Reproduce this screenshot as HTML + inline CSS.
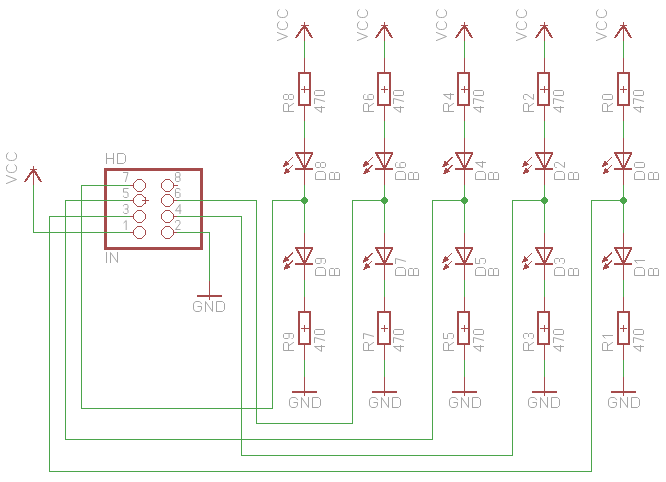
<!DOCTYPE html>
<html><head><meta charset="utf-8"><title>schematic</title>
<style>html,body{margin:0;padding:0;background:#fff;font-family:"Liberation Sans",sans-serif}svg{display:block}</style></head>
<body>
<svg width="666" height="482" viewBox="0 0 666 482">
<path d="M301,25.5H309M304.5,22V29M304.5,25V42M301,89.5H309M304.5,86V93M304.5,57V74M304.5,105V122M304.5,137V186M304.5,232V281M301,328.5H309M304.5,325V332M304.5,296V313M304.5,344V361M304.5,376V393M304.5,392V396M381,25.5H388M384.5,22V29M384.5,25V42M381,89.5H388M384.5,86V93M384.5,57V74M384.5,105V122M384.5,137V186M384.5,232V281M381,328.5H388M384.5,325V332M384.5,296V313M384.5,344V361M384.5,376V393M384.5,392V396M461,25.5H468M464.5,22V29M464.5,25V42M461,89.5H468M464.5,86V93M464.5,57V74M464.5,105V122M464.5,137V186M464.5,232V281M461,328.5H468M464.5,325V332M464.5,296V313M464.5,344V361M464.5,376V393M464.5,392V396M540,25.5H548M544.5,22V29M544.5,25V42M540,89.5H548M544.5,86V93M544.5,57V74M544.5,105V122M544.5,137V186M544.5,232V281M540,328.5H548M544.5,325V332M544.5,296V313M544.5,344V361M544.5,376V393M544.5,392V396M620,25.5H627M623.5,22V29M623.5,25V42M620,89.5H627M623.5,86V93M623.5,57V74M623.5,105V122M623.5,137V186M623.5,232V281M620,328.5H627M623.5,325V332M623.5,296V313M623.5,344V361M623.5,376V393M623.5,392V396M142,200.5H149M145.5,197V204M130,185.5H133M174,185.5H178M130,200.5H133M174,200.5H178M130,216.5H133M174,216.5H178M130,232.5H133M174,232.5H178M30,169.5H37M33.5,166V173M33.5,169V186M209.5,280V297M209.5,296V300" stroke="#A54B4B" stroke-width="1" fill="none" shape-rendering="crispEdges"/>
<path d="M299,73H310V105H299V72M299,312H310V344H299V311M291.5,392H317M378,73H390V105H378V72M378,312H390V344H378V311M371.5,392H397M458,73H469V105H458V72M458,312H469V344H458V311M451.5,392H477M538,73H549V105H538V72M538,312H549V344H538V311M531.5,392H557M618,73H629V105H618V72M618,312H629V344H618V311M610.5,392H636M196.5,296H222" stroke="#A54B4B" stroke-width="2" fill="none" shape-rendering="crispEdges"/>
<path d="M105.5,169.5H201.5V248.5H105.5Z" stroke="#A54B4B" stroke-width="3" fill="none" shape-rendering="crispEdges"/>
<path d="M296.3,37.2L304.5,25.5L311.7,37.2" stroke="#A54B4B" stroke-width="2" fill="none" stroke-linecap="round" stroke-linejoin="round" shape-rendering="crispEdges"/>
<path d="M295,153H313M296.6,153.5L304.5,169L312.4,153.5M295,169H313" stroke="#A54B4B" stroke-width="2" fill="none" stroke-linejoin="bevel" shape-rendering="crispEdges"/>
<path d="M292.86,157.14L283.29,166.70M292.86,165.11L284.08,173.87" stroke="#A54B4B" stroke-width="1" fill="none" shape-rendering="crispEdges"/>
<path d="M283.29,166.70L285.68,161.12L288.87,164.31Z M284.08,173.87L286.48,168.29L289.67,171.48Z" stroke="#A54B4B" stroke-width="1" fill="#A54B4B" stroke-linejoin="round" shape-rendering="crispEdges"/>
<path d="M295,248H313M296.6,248.5L304.5,264L312.4,248.5M295,264H313" stroke="#A54B4B" stroke-width="2" fill="none" stroke-linejoin="bevel" shape-rendering="crispEdges"/>
<path d="M292.86,252.72L283.29,262.28M292.86,260.69L284.08,269.45" stroke="#A54B4B" stroke-width="1" fill="none" shape-rendering="crispEdges"/>
<path d="M283.29,262.28L285.68,256.70L288.87,259.89Z M284.08,269.45L286.48,263.87L289.67,267.06Z" stroke="#A54B4B" stroke-width="1" fill="#A54B4B" stroke-linejoin="round" shape-rendering="crispEdges"/>
<path d="M376.3,37.2L384.5,25.5L391.7,37.2" stroke="#A54B4B" stroke-width="2" fill="none" stroke-linecap="round" stroke-linejoin="round" shape-rendering="crispEdges"/>
<path d="M375,153H393M376.6,153.5L384.5,169L392.4,153.5M375,169H393" stroke="#A54B4B" stroke-width="2" fill="none" stroke-linejoin="bevel" shape-rendering="crispEdges"/>
<path d="M372.61,157.14L363.04,166.70M372.61,165.11L363.83,173.87" stroke="#A54B4B" stroke-width="1" fill="none" shape-rendering="crispEdges"/>
<path d="M363.04,166.70L365.43,161.12L368.62,164.31Z M363.83,173.87L366.23,168.29L369.42,171.48Z" stroke="#A54B4B" stroke-width="1" fill="#A54B4B" stroke-linejoin="round" shape-rendering="crispEdges"/>
<path d="M375,248H393M376.6,248.5L384.5,264L392.4,248.5M375,264H393" stroke="#A54B4B" stroke-width="2" fill="none" stroke-linejoin="bevel" shape-rendering="crispEdges"/>
<path d="M372.61,252.72L363.04,262.28M372.61,260.69L363.83,269.45" stroke="#A54B4B" stroke-width="1" fill="none" shape-rendering="crispEdges"/>
<path d="M363.04,262.28L365.43,256.70L368.62,259.89Z M363.83,269.45L366.23,263.87L369.42,267.06Z" stroke="#A54B4B" stroke-width="1" fill="#A54B4B" stroke-linejoin="round" shape-rendering="crispEdges"/>
<path d="M456.3,37.2L464.5,25.5L471.7,37.2" stroke="#A54B4B" stroke-width="2" fill="none" stroke-linecap="round" stroke-linejoin="round" shape-rendering="crispEdges"/>
<path d="M455,153H473M456.6,153.5L464.5,169L472.4,153.5M455,169H473" stroke="#A54B4B" stroke-width="2" fill="none" stroke-linejoin="bevel" shape-rendering="crispEdges"/>
<path d="M452.36,157.14L442.79,166.70M452.36,165.11L443.58,173.87" stroke="#A54B4B" stroke-width="1" fill="none" shape-rendering="crispEdges"/>
<path d="M442.79,166.70L445.18,161.12L448.37,164.31Z M443.58,173.87L445.98,168.29L449.17,171.48Z" stroke="#A54B4B" stroke-width="1" fill="#A54B4B" stroke-linejoin="round" shape-rendering="crispEdges"/>
<path d="M455,248H473M456.6,248.5L464.5,264L472.4,248.5M455,264H473" stroke="#A54B4B" stroke-width="2" fill="none" stroke-linejoin="bevel" shape-rendering="crispEdges"/>
<path d="M452.36,252.72L442.79,262.28M452.36,260.69L443.58,269.45" stroke="#A54B4B" stroke-width="1" fill="none" shape-rendering="crispEdges"/>
<path d="M442.79,262.28L445.18,256.70L448.37,259.89Z M443.58,269.45L445.98,263.87L449.17,267.06Z" stroke="#A54B4B" stroke-width="1" fill="#A54B4B" stroke-linejoin="round" shape-rendering="crispEdges"/>
<path d="M536.3,37.2L544.5,25.5L551.7,37.2" stroke="#A54B4B" stroke-width="2" fill="none" stroke-linecap="round" stroke-linejoin="round" shape-rendering="crispEdges"/>
<path d="M535,153H553M536.6,153.5L544.5,169L552.4,153.5M535,169H553" stroke="#A54B4B" stroke-width="2" fill="none" stroke-linejoin="bevel" shape-rendering="crispEdges"/>
<path d="M532.11,157.14L522.54,166.70M532.11,165.11L523.33,173.87" stroke="#A54B4B" stroke-width="1" fill="none" shape-rendering="crispEdges"/>
<path d="M522.54,166.70L524.93,161.12L528.12,164.31Z M523.33,173.87L525.73,168.29L528.92,171.48Z" stroke="#A54B4B" stroke-width="1" fill="#A54B4B" stroke-linejoin="round" shape-rendering="crispEdges"/>
<path d="M535,248H553M536.6,248.5L544.5,264L552.4,248.5M535,264H553" stroke="#A54B4B" stroke-width="2" fill="none" stroke-linejoin="bevel" shape-rendering="crispEdges"/>
<path d="M532.11,252.72L522.54,262.28M532.11,260.69L523.33,269.45" stroke="#A54B4B" stroke-width="1" fill="none" shape-rendering="crispEdges"/>
<path d="M522.54,262.28L524.93,256.70L528.12,259.89Z M523.33,269.45L525.73,263.87L528.92,267.06Z" stroke="#A54B4B" stroke-width="1" fill="#A54B4B" stroke-linejoin="round" shape-rendering="crispEdges"/>
<path d="M615.3,37.2L623.5,25.5L630.7,37.2" stroke="#A54B4B" stroke-width="2" fill="none" stroke-linecap="round" stroke-linejoin="round" shape-rendering="crispEdges"/>
<path d="M614,153H632M615.6,153.5L623.5,169L631.4,153.5M614,169H632" stroke="#A54B4B" stroke-width="2" fill="none" stroke-linejoin="bevel" shape-rendering="crispEdges"/>
<path d="M611.86,157.14L602.29,166.70M611.86,165.11L603.08,173.87" stroke="#A54B4B" stroke-width="1" fill="none" shape-rendering="crispEdges"/>
<path d="M602.29,166.70L604.68,161.12L607.87,164.31Z M603.08,173.87L605.48,168.29L608.67,171.48Z" stroke="#A54B4B" stroke-width="1" fill="#A54B4B" stroke-linejoin="round" shape-rendering="crispEdges"/>
<path d="M614,248H632M615.6,248.5L623.5,264L631.4,248.5M614,264H632" stroke="#A54B4B" stroke-width="2" fill="none" stroke-linejoin="bevel" shape-rendering="crispEdges"/>
<path d="M611.86,252.72L602.29,262.28M611.86,260.69L603.08,269.45" stroke="#A54B4B" stroke-width="1" fill="none" shape-rendering="crispEdges"/>
<path d="M602.29,262.28L604.68,256.70L607.87,259.89Z M603.08,269.45L605.48,263.87L608.67,267.06Z" stroke="#A54B4B" stroke-width="1" fill="#A54B4B" stroke-linejoin="round" shape-rendering="crispEdges"/>
<path d="M25.3,181.2L33.5,169.5L40.7,181.2" stroke="#A54B4B" stroke-width="2" fill="none" stroke-linecap="round" stroke-linejoin="round" shape-rendering="crispEdges"/>
<g fill="#A54B4B" shape-rendering="crispEdges"><path transform="translate(139,185)" d="M-6,-2h1v1h-1zM-6,-1h1v1h-1zM-6,0h1v1h-1zM-6,1h1v1h-1zM-6,2h1v1h-1zM-5,-3h1v1h-1zM-5,3h1v1h-1zM-4,-4h1v1h-1zM-4,4h1v1h-1zM-3,-5h1v1h-1zM-3,5h1v1h-1zM-2,-6h1v1h-1zM-2,6h1v1h-1zM-1,-6h1v1h-1zM-1,6h1v1h-1zM0,-6h1v1h-1zM0,6h1v1h-1zM1,-6h1v1h-1zM1,6h1v1h-1zM2,-6h1v1h-1zM2,6h1v1h-1zM3,-5h1v1h-1zM3,5h1v1h-1zM4,-4h1v1h-1zM4,4h1v1h-1zM5,-3h1v1h-1zM5,3h1v1h-1zM6,-2h1v1h-1zM6,-1h1v1h-1zM6,0h1v1h-1zM6,1h1v1h-1zM6,2h1v1h-1z"/><path transform="translate(167,185)" d="M-6,-2h1v1h-1zM-6,-1h1v1h-1zM-6,0h1v1h-1zM-6,1h1v1h-1zM-6,2h1v1h-1zM-5,-3h1v1h-1zM-5,3h1v1h-1zM-4,-4h1v1h-1zM-4,4h1v1h-1zM-3,-5h1v1h-1zM-3,5h1v1h-1zM-2,-6h1v1h-1zM-2,6h1v1h-1zM-1,-6h1v1h-1zM-1,6h1v1h-1zM0,-6h1v1h-1zM0,6h1v1h-1zM1,-6h1v1h-1zM1,6h1v1h-1zM2,-6h1v1h-1zM2,6h1v1h-1zM3,-5h1v1h-1zM3,5h1v1h-1zM4,-4h1v1h-1zM4,4h1v1h-1zM5,-3h1v1h-1zM5,3h1v1h-1zM6,-2h1v1h-1zM6,-1h1v1h-1zM6,0h1v1h-1zM6,1h1v1h-1zM6,2h1v1h-1z"/><path transform="translate(139,200)" d="M-6,-2h1v1h-1zM-6,-1h1v1h-1zM-6,0h1v1h-1zM-6,1h1v1h-1zM-6,2h1v1h-1zM-5,-3h1v1h-1zM-5,3h1v1h-1zM-4,-4h1v1h-1zM-4,4h1v1h-1zM-3,-5h1v1h-1zM-3,5h1v1h-1zM-2,-6h1v1h-1zM-2,6h1v1h-1zM-1,-6h1v1h-1zM-1,6h1v1h-1zM0,-6h1v1h-1zM0,6h1v1h-1zM1,-6h1v1h-1zM1,6h1v1h-1zM2,-6h1v1h-1zM2,6h1v1h-1zM3,-5h1v1h-1zM3,5h1v1h-1zM4,-4h1v1h-1zM4,4h1v1h-1zM5,-3h1v1h-1zM5,3h1v1h-1zM6,-2h1v1h-1zM6,-1h1v1h-1zM6,0h1v1h-1zM6,1h1v1h-1zM6,2h1v1h-1z"/><path transform="translate(167,200)" d="M-6,-2h1v1h-1zM-6,-1h1v1h-1zM-6,0h1v1h-1zM-6,1h1v1h-1zM-6,2h1v1h-1zM-5,-3h1v1h-1zM-5,3h1v1h-1zM-4,-4h1v1h-1zM-4,4h1v1h-1zM-3,-5h1v1h-1zM-3,5h1v1h-1zM-2,-6h1v1h-1zM-2,6h1v1h-1zM-1,-6h1v1h-1zM-1,6h1v1h-1zM0,-6h1v1h-1zM0,6h1v1h-1zM1,-6h1v1h-1zM1,6h1v1h-1zM2,-6h1v1h-1zM2,6h1v1h-1zM3,-5h1v1h-1zM3,5h1v1h-1zM4,-4h1v1h-1zM4,4h1v1h-1zM5,-3h1v1h-1zM5,3h1v1h-1zM6,-2h1v1h-1zM6,-1h1v1h-1zM6,0h1v1h-1zM6,1h1v1h-1zM6,2h1v1h-1z"/><path transform="translate(139,216)" d="M-6,-2h1v1h-1zM-6,-1h1v1h-1zM-6,0h1v1h-1zM-6,1h1v1h-1zM-6,2h1v1h-1zM-5,-3h1v1h-1zM-5,3h1v1h-1zM-4,-4h1v1h-1zM-4,4h1v1h-1zM-3,-5h1v1h-1zM-3,5h1v1h-1zM-2,-6h1v1h-1zM-2,6h1v1h-1zM-1,-6h1v1h-1zM-1,6h1v1h-1zM0,-6h1v1h-1zM0,6h1v1h-1zM1,-6h1v1h-1zM1,6h1v1h-1zM2,-6h1v1h-1zM2,6h1v1h-1zM3,-5h1v1h-1zM3,5h1v1h-1zM4,-4h1v1h-1zM4,4h1v1h-1zM5,-3h1v1h-1zM5,3h1v1h-1zM6,-2h1v1h-1zM6,-1h1v1h-1zM6,0h1v1h-1zM6,1h1v1h-1zM6,2h1v1h-1z"/><path transform="translate(167,216)" d="M-6,-2h1v1h-1zM-6,-1h1v1h-1zM-6,0h1v1h-1zM-6,1h1v1h-1zM-6,2h1v1h-1zM-5,-3h1v1h-1zM-5,3h1v1h-1zM-4,-4h1v1h-1zM-4,4h1v1h-1zM-3,-5h1v1h-1zM-3,5h1v1h-1zM-2,-6h1v1h-1zM-2,6h1v1h-1zM-1,-6h1v1h-1zM-1,6h1v1h-1zM0,-6h1v1h-1zM0,6h1v1h-1zM1,-6h1v1h-1zM1,6h1v1h-1zM2,-6h1v1h-1zM2,6h1v1h-1zM3,-5h1v1h-1zM3,5h1v1h-1zM4,-4h1v1h-1zM4,4h1v1h-1zM5,-3h1v1h-1zM5,3h1v1h-1zM6,-2h1v1h-1zM6,-1h1v1h-1zM6,0h1v1h-1zM6,1h1v1h-1zM6,2h1v1h-1z"/><path transform="translate(139,232)" d="M-6,-2h1v1h-1zM-6,-1h1v1h-1zM-6,0h1v1h-1zM-6,1h1v1h-1zM-6,2h1v1h-1zM-5,-3h1v1h-1zM-5,3h1v1h-1zM-4,-4h1v1h-1zM-4,4h1v1h-1zM-3,-5h1v1h-1zM-3,5h1v1h-1zM-2,-6h1v1h-1zM-2,6h1v1h-1zM-1,-6h1v1h-1zM-1,6h1v1h-1zM0,-6h1v1h-1zM0,6h1v1h-1zM1,-6h1v1h-1zM1,6h1v1h-1zM2,-6h1v1h-1zM2,6h1v1h-1zM3,-5h1v1h-1zM3,5h1v1h-1zM4,-4h1v1h-1zM4,4h1v1h-1zM5,-3h1v1h-1zM5,3h1v1h-1zM6,-2h1v1h-1zM6,-1h1v1h-1zM6,0h1v1h-1zM6,1h1v1h-1zM6,2h1v1h-1z"/><path transform="translate(167,232)" d="M-6,-2h1v1h-1zM-6,-1h1v1h-1zM-6,0h1v1h-1zM-6,1h1v1h-1zM-6,2h1v1h-1zM-5,-3h1v1h-1zM-5,3h1v1h-1zM-4,-4h1v1h-1zM-4,4h1v1h-1zM-3,-5h1v1h-1zM-3,5h1v1h-1zM-2,-6h1v1h-1zM-2,6h1v1h-1zM-1,-6h1v1h-1zM-1,6h1v1h-1zM0,-6h1v1h-1zM0,6h1v1h-1zM1,-6h1v1h-1zM1,6h1v1h-1zM2,-6h1v1h-1zM2,6h1v1h-1zM3,-5h1v1h-1zM3,5h1v1h-1zM4,-4h1v1h-1zM4,4h1v1h-1zM5,-3h1v1h-1zM5,3h1v1h-1zM6,-2h1v1h-1zM6,-1h1v1h-1zM6,0h1v1h-1zM6,1h1v1h-1zM6,2h1v1h-1z"/></g>
<path d="M304.5,41V58M304.5,121V138M304.5,185V233M304.5,280V297M304.5,360V377M384.5,41V58M384.5,121V138M384.5,185V233M384.5,280V297M384.5,360V377M464.5,41V58M464.5,121V138M464.5,185V233M464.5,280V297M464.5,360V377M544.5,41V58M544.5,121V138M544.5,185V233M544.5,280V297M544.5,360V377M623.5,41V58M623.5,121V138M623.5,185V233M623.5,280V297M623.5,360V377M81,185.5H130M81.5,185V409M81,408.5H273M272.5,200V409M272,200.5H305M65,200.5H130M65.5,200V440M65,439.5H433M432.5,200V440M432,200.5H465M49,216.5H130M49.5,216V472M49,471.5H592M591.5,200V472M591,200.5H624M177,216.5H242M241.5,216V456M241,455.5H513M512.5,200V456M512,200.5H545M177,200.5H257M256.5,200V424M256,423.5H353M352.5,200V424M352,200.5H385M33,232.5H130M33.5,185V233M177,232.5H210M209.5,232V281" stroke="#4BA54B" stroke-width="1" fill="none" shape-rendering="crispEdges"/>
<g fill="#4BA54B" shape-rendering="crispEdges"><path transform="translate(304,200)" d="M-1,-3h3v1h1v1h1v3h-1v1h-1v1h-3v-1h-1v-1h-1v-3h1v-1h1z"/><path transform="translate(384,200)" d="M-1,-3h3v1h1v1h1v3h-1v1h-1v1h-3v-1h-1v-1h-1v-3h1v-1h1z"/><path transform="translate(464,200)" d="M-1,-3h3v1h1v1h1v3h-1v1h-1v1h-3v-1h-1v-1h-1v-3h1v-1h1z"/><path transform="translate(544,200)" d="M-1,-3h3v1h1v1h1v3h-1v1h-1v1h-3v-1h-1v-1h-1v-3h1v-1h1z"/><path transform="translate(623,200)" d="M-1,-3h3v1h1v1h1v3h-1v1h-1v1h-3v-1h-1v-1h-1v-3h1v-1h1z"/></g>
<g stroke="#A5A5A5" stroke-width="1" fill="none" stroke-linejoin="round" stroke-linecap="square" vector-effect="non-scaling-stroke"><path transform="translate(287.50,40.50) rotate(-90) scale(1.0,-1.0)" d="M0,10L4,0L8,10"/><path transform="translate(287.50,29.50) rotate(-90) scale(1.0,-1.0)" d="M7.6,8.4L6.6,9.5L5.4,10L3,10L1.4,9.2L0.3,7.6L0,6L0,4L0.3,2.4L1.4,0.8L3,0L5.4,0L6.6,0.5L7.6,1.6"/><path transform="translate(287.50,17.50) rotate(-90) scale(1.0,-1.0)" d="M7.6,8.4L6.6,9.5L5.4,10L3,10L1.4,9.2L0.3,7.6L0,6L0,4L0.3,2.4L1.4,0.8L3,0L5.4,0L6.6,0.5L7.6,1.6"/><path transform="translate(293.50,111.50) rotate(-90) scale(1.0,-1.0)" d="M0,0L0,10L6.8,10L8,9L8,6L6.8,5L0,5M4.6,5L8,0"/><path transform="translate(293.50,99.50) rotate(-90) scale(1.0,-1.0)" d="M1,5L0,6L0,9L1,10L4,10L5,9L5,6L4,5L1,5L0,4L0,1L1,0L4,0L5,1L5,4L4,5"/><path transform="translate(324.50,112.50) rotate(-90) scale(1.0,-1.0)" d="M5,0L5,10L0,3L6,3"/><path transform="translate(324.50,103.50) rotate(-90) scale(1.0,-1.0)" d="M0,10L5,10L2.2,0"/><path transform="translate(324.50,95.50) rotate(-90) scale(1.0,-1.0)" d="M1,0L4,0L5,1L5,9L4,10L1,10L0,9L0,1Z"/><path transform="translate(325.50,179.50) rotate(-90) scale(1.0,-1.0)" d="M0,0L0,10L6,10L8,8L8,2L6,0L0,0"/><path transform="translate(325.50,167.50) rotate(-90) scale(1.0,-1.0)" d="M1,5L0,6L0,9L1,10L4,10L5,9L5,6L4,5L1,5L0,4L0,1L1,0L4,0L5,1L5,4L4,5"/><path transform="translate(339.50,179.50) rotate(-90) scale(1.0,-1.0)" d="M0,0L0,10L6,10L7,9L7,6L6,5L0,5M6,5L7,4L7,1L6,0L0,0"/><path transform="translate(325.50,275.50) rotate(-90) scale(1.0,-1.0)" d="M0,0L0,10L6,10L8,8L8,2L6,0L0,0"/><path transform="translate(325.50,263.50) rotate(-90) scale(1.0,-1.0)" d="M0,1.4L0,1L1,0L4,0L5,1L5,9L4,10L1,10L0,9L0,5.4L1,4.4L4,4.4L5,5.4"/><path transform="translate(339.50,275.50) rotate(-90) scale(1.0,-1.0)" d="M0,0L0,10L6,10L7,9L7,6L6,5L0,5M6,5L7,4L7,1L6,0L0,0"/><path transform="translate(293.50,350.50) rotate(-90) scale(1.0,-1.0)" d="M0,0L0,10L6.8,10L8,9L8,6L6.8,5L0,5M4.6,5L8,0"/><path transform="translate(293.50,338.50) rotate(-90) scale(1.0,-1.0)" d="M0,1.4L0,1L1,0L4,0L5,1L5,9L4,10L1,10L0,9L0,5.4L1,4.4L4,4.4L5,5.4"/><path transform="translate(324.50,351.50) rotate(-90) scale(1.0,-1.0)" d="M5,0L5,10L0,3L6,3"/><path transform="translate(324.50,342.50) rotate(-90) scale(1.0,-1.0)" d="M0,10L5,10L2.2,0"/><path transform="translate(324.50,334.50) rotate(-90) scale(1.0,-1.0)" d="M1,0L4,0L5,1L5,9L4,10L1,10L0,9L0,1Z"/><path transform="translate(289.50,407.50) scale(1.0,-1.0)" d="M8,7.8L7.2,9L5.8,10L2.4,10L0.8,9L0,7.4L0,2.6L0.8,1L2.4,0L5.8,0L7.2,0.9L8,2.4L8,5L4.5,5"/><path transform="translate(301.50,407.50) scale(1.0,-1.0)" d="M0,0L0,10L7,0L7,10"/><path transform="translate(312.50,407.50) scale(1.0,-1.0)" d="M0,0L0,10L6,10L8,8L8,2L6,0L0,0"/><path transform="translate(367.50,40.50) rotate(-90) scale(1.0,-1.0)" d="M0,10L4,0L8,10"/><path transform="translate(367.50,29.50) rotate(-90) scale(1.0,-1.0)" d="M7.6,8.4L6.6,9.5L5.4,10L3,10L1.4,9.2L0.3,7.6L0,6L0,4L0.3,2.4L1.4,0.8L3,0L5.4,0L6.6,0.5L7.6,1.6"/><path transform="translate(367.50,17.50) rotate(-90) scale(1.0,-1.0)" d="M7.6,8.4L6.6,9.5L5.4,10L3,10L1.4,9.2L0.3,7.6L0,6L0,4L0.3,2.4L1.4,0.8L3,0L5.4,0L6.6,0.5L7.6,1.6"/><path transform="translate(373.50,111.50) rotate(-90) scale(1.0,-1.0)" d="M0,0L0,10L6.8,10L8,9L8,6L6.8,5L0,5M4.6,5L8,0"/><path transform="translate(373.50,99.50) rotate(-90) scale(1.0,-1.0)" d="M5,8.6L5,9L4,10L1,10L0,9L0,1L1,0L4,0L5,1L5,4.6L4,5.6L1,5.6L0,4.6"/><path transform="translate(403.50,112.50) rotate(-90) scale(1.0,-1.0)" d="M5,0L5,10L0,3L6,3"/><path transform="translate(403.50,103.50) rotate(-90) scale(1.0,-1.0)" d="M0,10L5,10L2.2,0"/><path transform="translate(403.50,95.50) rotate(-90) scale(1.0,-1.0)" d="M1,0L4,0L5,1L5,9L4,10L1,10L0,9L0,1Z"/><path transform="translate(405.50,179.50) rotate(-90) scale(1.0,-1.0)" d="M0,0L0,10L6,10L8,8L8,2L6,0L0,0"/><path transform="translate(405.50,167.50) rotate(-90) scale(1.0,-1.0)" d="M5,8.6L5,9L4,10L1,10L0,9L0,1L1,0L4,0L5,1L5,4.6L4,5.6L1,5.6L0,4.6"/><path transform="translate(418.50,179.50) rotate(-90) scale(1.0,-1.0)" d="M0,0L0,10L6,10L7,9L7,6L6,5L0,5M6,5L7,4L7,1L6,0L0,0"/><path transform="translate(405.50,275.50) rotate(-90) scale(1.0,-1.0)" d="M0,0L0,10L6,10L8,8L8,2L6,0L0,0"/><path transform="translate(405.50,263.50) rotate(-90) scale(1.0,-1.0)" d="M0,10L5,10L2.2,0"/><path transform="translate(418.50,275.50) rotate(-90) scale(1.0,-1.0)" d="M0,0L0,10L6,10L7,9L7,6L6,5L0,5M6,5L7,4L7,1L6,0L0,0"/><path transform="translate(373.50,350.50) rotate(-90) scale(1.0,-1.0)" d="M0,0L0,10L6.8,10L8,9L8,6L6.8,5L0,5M4.6,5L8,0"/><path transform="translate(373.50,338.50) rotate(-90) scale(1.0,-1.0)" d="M0,10L5,10L2.2,0"/><path transform="translate(403.50,351.50) rotate(-90) scale(1.0,-1.0)" d="M5,0L5,10L0,3L6,3"/><path transform="translate(403.50,342.50) rotate(-90) scale(1.0,-1.0)" d="M0,10L5,10L2.2,0"/><path transform="translate(403.50,334.50) rotate(-90) scale(1.0,-1.0)" d="M1,0L4,0L5,1L5,9L4,10L1,10L0,9L0,1Z"/><path transform="translate(369.50,407.50) scale(1.0,-1.0)" d="M8,7.8L7.2,9L5.8,10L2.4,10L0.8,9L0,7.4L0,2.6L0.8,1L2.4,0L5.8,0L7.2,0.9L8,2.4L8,5L4.5,5"/><path transform="translate(381.50,407.50) scale(1.0,-1.0)" d="M0,0L0,10L7,0L7,10"/><path transform="translate(392.50,407.50) scale(1.0,-1.0)" d="M0,0L0,10L6,10L8,8L8,2L6,0L0,0"/><path transform="translate(446.50,40.50) rotate(-90) scale(1.0,-1.0)" d="M0,10L4,0L8,10"/><path transform="translate(446.50,29.50) rotate(-90) scale(1.0,-1.0)" d="M7.6,8.4L6.6,9.5L5.4,10L3,10L1.4,9.2L0.3,7.6L0,6L0,4L0.3,2.4L1.4,0.8L3,0L5.4,0L6.6,0.5L7.6,1.6"/><path transform="translate(446.50,17.50) rotate(-90) scale(1.0,-1.0)" d="M7.6,8.4L6.6,9.5L5.4,10L3,10L1.4,9.2L0.3,7.6L0,6L0,4L0.3,2.4L1.4,0.8L3,0L5.4,0L6.6,0.5L7.6,1.6"/><path transform="translate(453.50,111.50) rotate(-90) scale(1.0,-1.0)" d="M0,0L0,10L6.8,10L8,9L8,6L6.8,5L0,5M4.6,5L8,0"/><path transform="translate(453.50,99.50) rotate(-90) scale(1.0,-1.0)" d="M5,0L5,10L0,3L6,3"/><path transform="translate(483.50,112.50) rotate(-90) scale(1.0,-1.0)" d="M5,0L5,10L0,3L6,3"/><path transform="translate(483.50,103.50) rotate(-90) scale(1.0,-1.0)" d="M0,10L5,10L2.2,0"/><path transform="translate(483.50,95.50) rotate(-90) scale(1.0,-1.0)" d="M1,0L4,0L5,1L5,9L4,10L1,10L0,9L0,1Z"/><path transform="translate(485.50,179.50) rotate(-90) scale(1.0,-1.0)" d="M0,0L0,10L6,10L8,8L8,2L6,0L0,0"/><path transform="translate(485.50,167.50) rotate(-90) scale(1.0,-1.0)" d="M5,0L5,10L0,3L6,3"/><path transform="translate(498.50,179.50) rotate(-90) scale(1.0,-1.0)" d="M0,0L0,10L6,10L7,9L7,6L6,5L0,5M6,5L7,4L7,1L6,0L0,0"/><path transform="translate(485.50,275.50) rotate(-90) scale(1.0,-1.0)" d="M0,0L0,10L6,10L8,8L8,2L6,0L0,0"/><path transform="translate(485.50,263.50) rotate(-90) scale(1.0,-1.0)" d="M5,10L0,10L0,5.8L1,6L4,6L5,5L5,1L4,0L1,0L0,1L0,1.4"/><path transform="translate(498.50,275.50) rotate(-90) scale(1.0,-1.0)" d="M0,0L0,10L6,10L7,9L7,6L6,5L0,5M6,5L7,4L7,1L6,0L0,0"/><path transform="translate(453.50,350.50) rotate(-90) scale(1.0,-1.0)" d="M0,0L0,10L6.8,10L8,9L8,6L6.8,5L0,5M4.6,5L8,0"/><path transform="translate(453.50,338.50) rotate(-90) scale(1.0,-1.0)" d="M5,10L0,10L0,5.8L1,6L4,6L5,5L5,1L4,0L1,0L0,1L0,1.4"/><path transform="translate(483.50,351.50) rotate(-90) scale(1.0,-1.0)" d="M5,0L5,10L0,3L6,3"/><path transform="translate(483.50,342.50) rotate(-90) scale(1.0,-1.0)" d="M0,10L5,10L2.2,0"/><path transform="translate(483.50,334.50) rotate(-90) scale(1.0,-1.0)" d="M1,0L4,0L5,1L5,9L4,10L1,10L0,9L0,1Z"/><path transform="translate(449.50,407.50) scale(1.0,-1.0)" d="M8,7.8L7.2,9L5.8,10L2.4,10L0.8,9L0,7.4L0,2.6L0.8,1L2.4,0L5.8,0L7.2,0.9L8,2.4L8,5L4.5,5"/><path transform="translate(461.50,407.50) scale(1.0,-1.0)" d="M0,0L0,10L7,0L7,10"/><path transform="translate(472.50,407.50) scale(1.0,-1.0)" d="M0,0L0,10L6,10L8,8L8,2L6,0L0,0"/><path transform="translate(526.50,40.50) rotate(-90) scale(1.0,-1.0)" d="M0,10L4,0L8,10"/><path transform="translate(526.50,29.50) rotate(-90) scale(1.0,-1.0)" d="M7.6,8.4L6.6,9.5L5.4,10L3,10L1.4,9.2L0.3,7.6L0,6L0,4L0.3,2.4L1.4,0.8L3,0L5.4,0L6.6,0.5L7.6,1.6"/><path transform="translate(526.50,17.50) rotate(-90) scale(1.0,-1.0)" d="M7.6,8.4L6.6,9.5L5.4,10L3,10L1.4,9.2L0.3,7.6L0,6L0,4L0.3,2.4L1.4,0.8L3,0L5.4,0L6.6,0.5L7.6,1.6"/><path transform="translate(533.50,111.50) rotate(-90) scale(1.0,-1.0)" d="M0,0L0,10L6.8,10L8,9L8,6L6.8,5L0,5M4.6,5L8,0"/><path transform="translate(533.50,99.50) rotate(-90) scale(1.0,-1.0)" d="M0,8.2L0,9L1,10L4,10L5,9L5,6.5L0,0L5,0"/><path transform="translate(563.50,112.50) rotate(-90) scale(1.0,-1.0)" d="M5,0L5,10L0,3L6,3"/><path transform="translate(563.50,103.50) rotate(-90) scale(1.0,-1.0)" d="M0,10L5,10L2.2,0"/><path transform="translate(563.50,95.50) rotate(-90) scale(1.0,-1.0)" d="M1,0L4,0L5,1L5,9L4,10L1,10L0,9L0,1Z"/><path transform="translate(564.50,179.50) rotate(-90) scale(1.0,-1.0)" d="M0,0L0,10L6,10L8,8L8,2L6,0L0,0"/><path transform="translate(564.50,167.50) rotate(-90) scale(1.0,-1.0)" d="M0,8.2L0,9L1,10L4,10L5,9L5,6.5L0,0L5,0"/><path transform="translate(578.50,179.50) rotate(-90) scale(1.0,-1.0)" d="M0,0L0,10L6,10L7,9L7,6L6,5L0,5M6,5L7,4L7,1L6,0L0,0"/><path transform="translate(564.50,275.50) rotate(-90) scale(1.0,-1.0)" d="M0,0L0,10L6,10L8,8L8,2L6,0L0,0"/><path transform="translate(564.50,263.50) rotate(-90) scale(1.0,-1.0)" d="M0,8.6L0,9L1,10L4,10L5,9L5,6L4,5L2,5M4,5L5,4L5,1L4,0L1,0L0,1L0,1.4"/><path transform="translate(578.50,275.50) rotate(-90) scale(1.0,-1.0)" d="M0,0L0,10L6,10L7,9L7,6L6,5L0,5M6,5L7,4L7,1L6,0L0,0"/><path transform="translate(533.50,350.50) rotate(-90) scale(1.0,-1.0)" d="M0,0L0,10L6.8,10L8,9L8,6L6.8,5L0,5M4.6,5L8,0"/><path transform="translate(533.50,338.50) rotate(-90) scale(1.0,-1.0)" d="M0,8.6L0,9L1,10L4,10L5,9L5,6L4,5L2,5M4,5L5,4L5,1L4,0L1,0L0,1L0,1.4"/><path transform="translate(563.50,351.50) rotate(-90) scale(1.0,-1.0)" d="M5,0L5,10L0,3L6,3"/><path transform="translate(563.50,342.50) rotate(-90) scale(1.0,-1.0)" d="M0,10L5,10L2.2,0"/><path transform="translate(563.50,334.50) rotate(-90) scale(1.0,-1.0)" d="M1,0L4,0L5,1L5,9L4,10L1,10L0,9L0,1Z"/><path transform="translate(528.50,407.50) scale(1.0,-1.0)" d="M8,7.8L7.2,9L5.8,10L2.4,10L0.8,9L0,7.4L0,2.6L0.8,1L2.4,0L5.8,0L7.2,0.9L8,2.4L8,5L4.5,5"/><path transform="translate(540.50,407.50) scale(1.0,-1.0)" d="M0,0L0,10L7,0L7,10"/><path transform="translate(551.50,407.50) scale(1.0,-1.0)" d="M0,0L0,10L6,10L8,8L8,2L6,0L0,0"/><path transform="translate(606.50,40.50) rotate(-90) scale(1.0,-1.0)" d="M0,10L4,0L8,10"/><path transform="translate(606.50,29.50) rotate(-90) scale(1.0,-1.0)" d="M7.6,8.4L6.6,9.5L5.4,10L3,10L1.4,9.2L0.3,7.6L0,6L0,4L0.3,2.4L1.4,0.8L3,0L5.4,0L6.6,0.5L7.6,1.6"/><path transform="translate(606.50,17.50) rotate(-90) scale(1.0,-1.0)" d="M7.6,8.4L6.6,9.5L5.4,10L3,10L1.4,9.2L0.3,7.6L0,6L0,4L0.3,2.4L1.4,0.8L3,0L5.4,0L6.6,0.5L7.6,1.6"/><path transform="translate(612.50,111.50) rotate(-90) scale(1.0,-1.0)" d="M0,0L0,10L6.8,10L8,9L8,6L6.8,5L0,5M4.6,5L8,0"/><path transform="translate(612.50,99.50) rotate(-90) scale(1.0,-1.0)" d="M1,0L4,0L5,1L5,9L4,10L1,10L0,9L0,1Z"/><path transform="translate(643.50,112.50) rotate(-90) scale(1.0,-1.0)" d="M5,0L5,10L0,3L6,3"/><path transform="translate(643.50,103.50) rotate(-90) scale(1.0,-1.0)" d="M0,10L5,10L2.2,0"/><path transform="translate(643.50,95.50) rotate(-90) scale(1.0,-1.0)" d="M1,0L4,0L5,1L5,9L4,10L1,10L0,9L0,1Z"/><path transform="translate(644.50,179.50) rotate(-90) scale(1.0,-1.0)" d="M0,0L0,10L6,10L8,8L8,2L6,0L0,0"/><path transform="translate(644.50,167.50) rotate(-90) scale(1.0,-1.0)" d="M1,0L4,0L5,1L5,9L4,10L1,10L0,9L0,1Z"/><path transform="translate(658.50,179.50) rotate(-90) scale(1.0,-1.0)" d="M0,0L0,10L6,10L7,9L7,6L6,5L0,5M6,5L7,4L7,1L6,0L0,0"/><path transform="translate(644.50,275.50) rotate(-90) scale(1.0,-1.0)" d="M0,0L0,10L6,10L8,8L8,2L6,0L0,0"/><path transform="translate(644.50,263.50) rotate(-90) scale(1.0,-1.0)" d="M0.5,7.6L3,10L3,0"/><path transform="translate(658.50,275.50) rotate(-90) scale(1.0,-1.0)" d="M0,0L0,10L6,10L7,9L7,6L6,5L0,5M6,5L7,4L7,1L6,0L0,0"/><path transform="translate(612.50,350.50) rotate(-90) scale(1.0,-1.0)" d="M0,0L0,10L6.8,10L8,9L8,6L6.8,5L0,5M4.6,5L8,0"/><path transform="translate(612.50,338.50) rotate(-90) scale(1.0,-1.0)" d="M0.5,7.6L3,10L3,0"/><path transform="translate(643.50,351.50) rotate(-90) scale(1.0,-1.0)" d="M5,0L5,10L0,3L6,3"/><path transform="translate(643.50,342.50) rotate(-90) scale(1.0,-1.0)" d="M0,10L5,10L2.2,0"/><path transform="translate(643.50,334.50) rotate(-90) scale(1.0,-1.0)" d="M1,0L4,0L5,1L5,9L4,10L1,10L0,9L0,1Z"/><path transform="translate(608.50,407.50) scale(1.0,-1.0)" d="M8,7.8L7.2,9L5.8,10L2.4,10L0.8,9L0,7.4L0,2.6L0.8,1L2.4,0L5.8,0L7.2,0.9L8,2.4L8,5L4.5,5"/><path transform="translate(620.50,407.50) scale(1.0,-1.0)" d="M0,0L0,10L7,0L7,10"/><path transform="translate(631.50,407.50) scale(1.0,-1.0)" d="M0,0L0,10L6,10L8,8L8,2L6,0L0,0"/><path transform="translate(123.50,181.50) scale(0.9,-0.9)" d="M0,10L5,10L2.2,0" stroke-width="1.111"/><path transform="translate(175.50,181.50) scale(0.9,-0.9)" d="M1,5L0,6L0,9L1,10L4,10L5,9L5,6L4,5L1,5L0,4L0,1L1,0L4,0L5,1L5,4L4,5" stroke-width="1.111"/><path transform="translate(123.50,197.50) scale(0.9,-0.9)" d="M5,10L0,10L0,5.8L1,6L4,6L5,5L5,1L4,0L1,0L0,1L0,1.4" stroke-width="1.111"/><path transform="translate(175.50,197.50) scale(0.9,-0.9)" d="M5,8.6L5,9L4,10L1,10L0,9L0,1L1,0L4,0L5,1L5,4.6L4,5.6L1,5.6L0,4.6" stroke-width="1.111"/><path transform="translate(123.50,213.50) scale(0.9,-0.9)" d="M0,8.6L0,9L1,10L4,10L5,9L5,6L4,5L2,5M4,5L5,4L5,1L4,0L1,0L0,1L0,1.4" stroke-width="1.111"/><path transform="translate(175.50,213.50) scale(0.9,-0.9)" d="M5,0L5,10L0,3L6,3" stroke-width="1.111"/><path transform="translate(123.50,229.50) scale(0.9,-0.9)" d="M0.5,7.6L3,10L3,0" stroke-width="1.111"/><path transform="translate(175.50,229.50) scale(0.9,-0.9)" d="M0,8.2L0,9L1,10L4,10L5,9L5,6.5L0,0L5,0" stroke-width="1.111"/><path transform="translate(106.50,163.50) scale(1.0,-1.0)" d="M0,0L0,10M7,0L7,10M0,5L7,5"/><path transform="translate(117.50,163.50) scale(1.0,-1.0)" d="M0,0L0,10L6,10L8,8L8,2L6,0L0,0"/><path transform="translate(106.50,262.50) scale(1.0,-1.0)" d="M0,0L0,10"/><path transform="translate(110.50,262.50) scale(1.0,-1.0)" d="M0,0L0,10L7,0L7,10"/><path transform="translate(16.50,183.50) rotate(-90) scale(1.0,-1.0)" d="M0,10L4,0L8,10"/><path transform="translate(16.50,172.50) rotate(-90) scale(1.0,-1.0)" d="M7.6,8.4L6.6,9.5L5.4,10L3,10L1.4,9.2L0.3,7.6L0,6L0,4L0.3,2.4L1.4,0.8L3,0L5.4,0L6.6,0.5L7.6,1.6"/><path transform="translate(16.50,160.50) rotate(-90) scale(1.0,-1.0)" d="M7.6,8.4L6.6,9.5L5.4,10L3,10L1.4,9.2L0.3,7.6L0,6L0,4L0.3,2.4L1.4,0.8L3,0L5.4,0L6.6,0.5L7.6,1.6"/><path transform="translate(193.50,311.50) scale(1.0,-1.0)" d="M8,7.8L7.2,9L5.8,10L2.4,10L0.8,9L0,7.4L0,2.6L0.8,1L2.4,0L5.8,0L7.2,0.9L8,2.4L8,5L4.5,5"/><path transform="translate(205.50,311.50) scale(1.0,-1.0)" d="M0,0L0,10L7,0L7,10"/><path transform="translate(216.50,311.50) scale(1.0,-1.0)" d="M0,0L0,10L6,10L8,8L8,2L6,0L0,0"/></g>
</svg>
</body></html>
